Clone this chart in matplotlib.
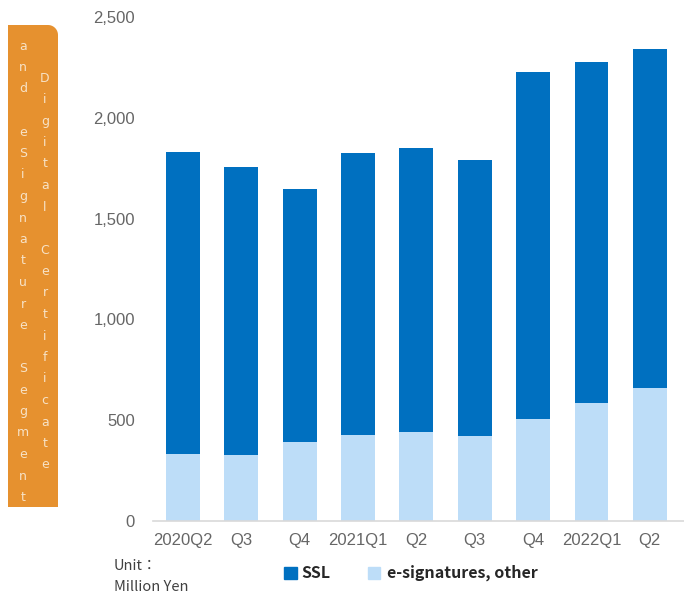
import numpy as np
import matplotlib
matplotlib.use('Agg')
import matplotlib.pyplot as plt
from matplotlib.patches import Polygon
from matplotlib.ticker import FuncFormatter

quarters = ['2020Q2', 'Q3', 'Q4', '2021Q1', 'Q2', 'Q3', 'Q4', '2022Q1', 'Q2']
esign = [334, 329, 390, 425, 440, 420, 506, 585, 661]
total = [1830, 1756, 1646, 1825, 1850, 1791, 2227, 2277, 2343]
ssl = [t - e for t, e in zip(total, esign)]

side_left = 'and eSignature Segment'
side_right = 'Digital Certificate'

dark_blue = '#0070C0'
light_blue = '#BDDDF8'
orange = '#E6912F'

W, H = 684, 597
fig = plt.figure(figsize=(W / 100, H / 100), dpi=100)

def fx(px):
    return px / W

def fy(py):
    return 1 - py / H

ax = fig.add_axes([fx(153), fy(521), fx(684) - fx(153), fy(17) - fy(521)])
x = np.arange(len(quarters))
ax.bar(x, esign, width=0.58, color=light_blue, zorder=2)
ax.bar(x, ssl, width=0.58, bottom=esign, color=dark_blue, zorder=2)

ax.set_xlim(-0.512, 8.586)
ax.set_ylim(0, 2500)
ax.set_yticks(range(0, 2501, 500))
ax.yaxis.set_major_formatter(FuncFormatter(lambda v, p: f'{int(v):,}'))
ax.set_xticks(x)
ax.set_xticklabels(quarters)
for s in ['top', 'right', 'left']:
    ax.spines[s].set_visible(False)
ax.spines['bottom'].set_color('#D9D9D9')
ax.spines['bottom'].set_linewidth(1.2)
ax.tick_params(axis='y', length=0, pad=13, labelsize=12, labelcolor='#666666')
ax.tick_params(axis='x', length=0, pad=9, labelsize=12, labelcolor='#666666')
for lab in ax.get_xticklabels() + ax.get_yticklabels():
    lab.set_fontfamily('Liberation Sans')

# orange side box, only the top-right corner rounded
x0, x1, y0, y1, r = 8, 58, 25, 507, 10
ang = np.linspace(np.pi / 2, 0, 12)
pts = [(x0, y1), (x0, y0)]
pts += [(x1 - r + r * np.cos(a), y0 + r - r * np.sin(a)) for a in ang]
pts += [(x1, y1)]
box = Polygon([(fx(a), fy(b)) for a, b in pts], closed=True,
              transform=fig.transFigure, facecolor=orange, edgecolor='none')
fig.patches.append(box)

step = 21.5
for i, ch in enumerate(side_left):
    fig.text(fx(23), fy(46 + i * step), ch, ha='center', va='center',
             fontsize=9, color='#F7E2C6', family='DejaVu Sans')
for i, ch in enumerate(side_right):
    fig.text(fx(45), fy(78 + i * step), ch, ha='center', va='center',
             fontsize=9, color='#F7E2C6', family='DejaVu Sans')

# legend
fig.patches.append(plt.Rectangle((fx(284), fy(579)), fx(13), fy(567) - fy(579),
                                 transform=fig.transFigure, color=dark_blue))
fig.text(fx(301), fy(573), 'SSL', ha='left', va='center', fontsize=11.5,
         fontweight='bold', color='#262626', family='Noto Sans CJK JP')
fig.patches.append(plt.Rectangle((fx(368), fy(579)), fx(12), fy(567) - fy(579),
                                 transform=fig.transFigure, color=light_blue))
fig.text(fx(387), fy(573), 'e-signatures, other', ha='left', va='center',
         fontsize=11.5, fontweight='bold', color='#262626', family='Noto Sans CJK JP')

fig.text(fx(114), fy(566), 'Unit：', ha='left', va='center', fontsize=10.5,
         color='#404040', family=['Noto Sans CJK JP', 'DejaVu Sans'])
fig.text(fx(114), fy(587), 'Million Yen', ha='left', va='center', fontsize=10.5,
         color='#404040', family=['Noto Sans CJK JP', 'DejaVu Sans'])

fig.savefig('out.png', dpi=100)
